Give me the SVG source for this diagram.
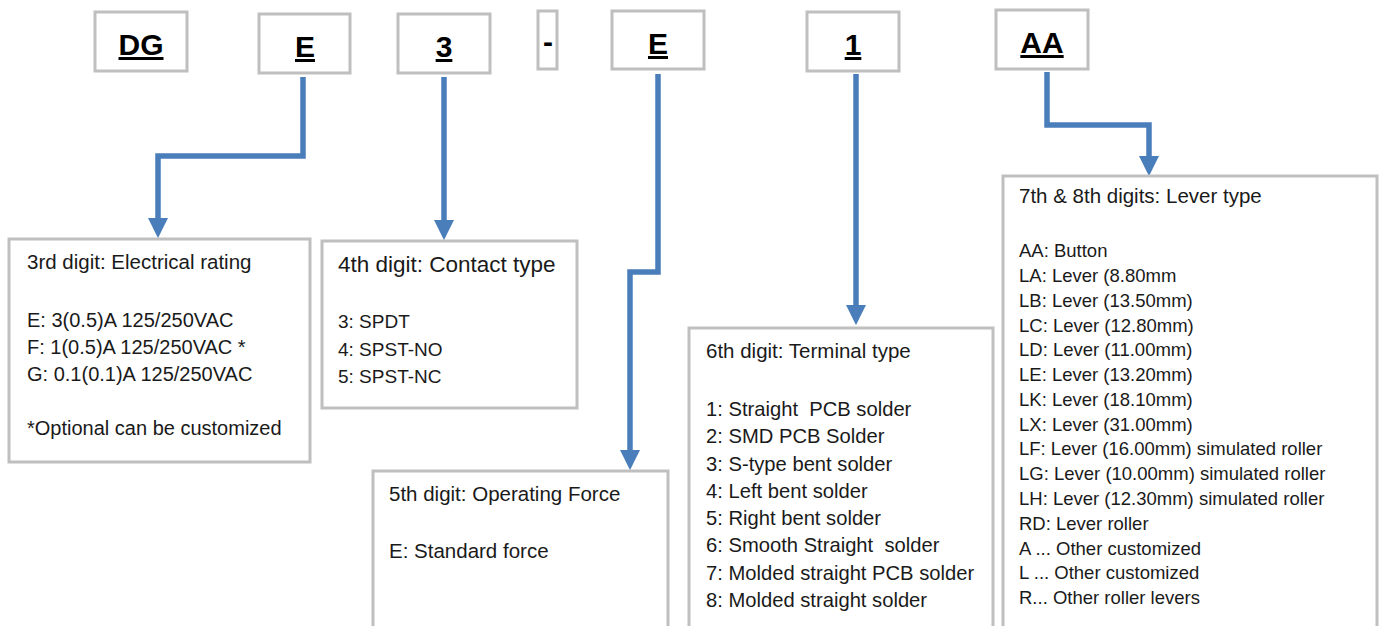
<svg xmlns="http://www.w3.org/2000/svg" width="1381" height="626" viewBox="0 0 1381 626">
<defs>
<style>
.box{fill:#fff;stroke:#BFBFBF;stroke-width:3}
.code{font-family:"Liberation Sans",Arial,sans-serif;font-weight:bold;font-size:30px;text-anchor:middle;fill:#000;text-decoration:underline}
.dash{font-family:"Liberation Sans",Arial,sans-serif;font-weight:bold;font-size:30px;text-anchor:middle;fill:#000}
.t{font-family:"Liberation Sans",Arial,sans-serif;fill:#1a1a1a}
.conn{fill:none;stroke:#4A7EBB;stroke-width:5.5;stroke-linejoin:miter}
</style>
<marker id="ah" markerUnits="userSpaceOnUse" markerWidth="20" markerHeight="20" viewBox="0 0 18 18" refX="8" refY="9" orient="auto">
<path d="M0,0 L18,9 L0,18 z" fill="#4A7EBB"/>
</marker>
</defs>
<rect width="1381" height="626" fill="#fff"/>

<g id="code-DG"><rect class="box" x="95" y="12" width="92" height="59"/><text class="code" x="141" y="55">DG</text></g>
<g id="code-E1"><rect class="box" x="259" y="14" width="91" height="59"/><text class="code" x="305" y="57">E</text></g>
<g id="code-3"><rect class="box" x="398" y="14" width="92" height="59"/><text class="code" x="444" y="57">3</text></g>
<g id="code-dash"><rect class="box" x="538" y="11" width="19" height="58"/><text class="dash" x="548" y="52">-</text></g>
<g id="code-E2"><rect class="box" x="612" y="11" width="92" height="58"/><text class="code" x="658" y="54">E</text></g>
<g id="code-1"><rect class="box" x="807" y="12" width="92" height="59"/><text class="code" x="853" y="55">1</text></g>
<g id="code-AA"><rect class="box" x="996" y="10" width="92" height="59"/><text class="code" x="1042" y="53">AA</text></g>

<g id="connectors">
<path class="conn" d="M303,77 V156 H158 V227" marker-end="url(#ah)"/>
<path class="conn" d="M444,77 V229" marker-end="url(#ah)"/>
<path class="conn" d="M658,74 V272 H630 V459" marker-end="url(#ah)"/>
<path class="conn" d="M856,74 V314" marker-end="url(#ah)"/>
<path class="conn" d="M1047,72 V125 H1149 V165" marker-end="url(#ah)"/>
</g>

<g id="box-3rd">
<rect class="box" x="9" y="239" width="301" height="223"/>
<text class="t" font-size="20.5" x="27" y="269">3rd digit: Electrical rating</text>
<text class="t" font-size="20" x="27" y="327">E: 3(0.5)A 125/250VAC</text>
<text class="t" font-size="20" x="27" y="354">F: 1(0.5)A 125/250VAC *</text>
<text class="t" font-size="20" x="27" y="381">G: 0.1(0.1)A 125/250VAC</text>
<text class="t" font-size="20" x="27" y="435">*Optional can be customized</text>
</g>

<g id="box-4th">
<rect class="box" x="322" y="241" width="255" height="167"/>
<text class="t" font-size="22.5" x="338" y="272">4th digit: Contact type</text>
<text class="t" font-size="19" x="338" y="328">3: SPDT</text>
<text class="t" font-size="19" x="338" y="356">4: SPST-NO</text>
<text class="t" font-size="19" x="338" y="383">5: SPST-NC</text>
</g>

<g id="box-5th">
<rect class="box" x="373" y="471" width="295" height="180"/>
<text class="t" font-size="20.5" x="389" y="501">5th digit: Operating Force</text>
<text class="t" font-size="20.5" x="389" y="558">E: Standard force</text>
</g>

<g id="box-6th">
<rect class="box" x="689" y="328" width="304" height="320"/>
<text class="t" font-size="20.5" x="706" y="358">6th digit: Terminal type</text>
<text class="t" font-size="20.2" x="706" y="416" xml:space="preserve">1: Straight  PCB solder</text>
<text class="t" font-size="20.2" x="706" y="443">2: SMD PCB Solder</text>
<text class="t" font-size="20.2" x="706" y="471">3: S-type bent solder</text>
<text class="t" font-size="20.2" x="706" y="498">4: Left bent solder</text>
<text class="t" font-size="20.2" x="706" y="525">5: Right bent solder</text>
<text class="t" font-size="20.2" x="706" y="552" xml:space="preserve">6: Smooth Straight  solder</text>
<text class="t" font-size="20.2" x="706" y="580">7: Molded straight PCB solder</text>
<text class="t" font-size="20.2" x="706" y="607">8: Molded straight solder</text>
</g>

<g id="box-7th8th">
<rect class="box" x="1003" y="176" width="374" height="480"/>
<text class="t" font-size="20.5" x="1019" y="203">7th &amp; 8th digits: Lever type</text>
<text class="t" font-size="18.5" x="1019" y="257">AA: Button</text>
<text class="t" font-size="18.5" x="1019" y="282">LA: Lever (8.80mm</text>
<text class="t" font-size="18.5" x="1019" y="307">LB: Lever (13.50mm)</text>
<text class="t" font-size="18.5" x="1019" y="332">LC: Lever (12.80mm)</text>
<text class="t" font-size="18.5" x="1019" y="356">LD: Lever (11.00mm)</text>
<text class="t" font-size="18.5" x="1019" y="381">LE: Lever (13.20mm)</text>
<text class="t" font-size="18.5" x="1019" y="406">LK: Lever (18.10mm)</text>
<text class="t" font-size="18.5" x="1019" y="431">LX: Lever (31.00mm)</text>
<text class="t" font-size="18.5" x="1019" y="455">LF: Lever (16.00mm) simulated roller</text>
<text class="t" font-size="18.5" x="1019" y="480">LG: Lever (10.00mm) simulated roller</text>
<text class="t" font-size="18.5" x="1019" y="505">LH: Lever (12.30mm) simulated roller</text>
<text class="t" font-size="18.5" x="1019" y="530">RD: Lever roller</text>
<text class="t" font-size="18.5" x="1019" y="555">A ... Other customized</text>
<text class="t" font-size="18.5" x="1019" y="579">L ... Other customized</text>
<text class="t" font-size="18.5" x="1019" y="604">R... Other roller levers</text>
</g>
</svg>
